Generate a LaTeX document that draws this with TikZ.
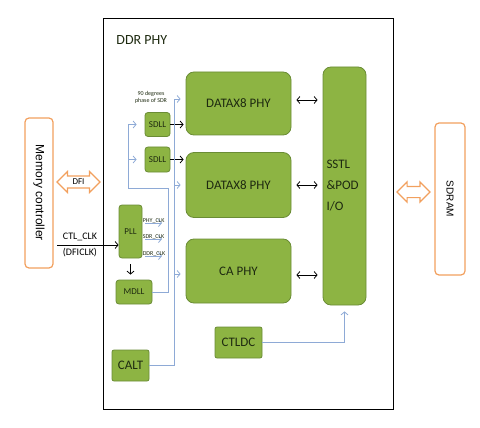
\documentclass[tikz,border=0pt]{standalone}
\usepackage{fontspec}
\setmainfont{Carlito}
\newfontfamily\arialfont{Liberation Sans}
\usepackage{tikz}
\usetikzlibrary{positioning,shapes.arrows,arrows.meta}
\definecolor{PhyGreen}{HTML}{8DB443}
\definecolor{PhyGreenDark}{HTML}{6A8C35}
\definecolor{PhyText}{HTML}{1E2A10}
\definecolor{PhyBlue}{HTML}{8EAAD6}
\definecolor{PhyOrange}{HTML}{F2A05E}

\begin{document}
\begin{tikzpicture}[x=1pt, y=-1pt, >={Straight Barb[length=3pt,width=7pt]}, line width=0.8pt,
  every node/.style={font=\fontsize{13}{15}\selectfont, align=center, inner sep=0pt},
  block/.style={draw=PhyGreenDark, fill=PhyGreen, rounded corners=8pt, text=PhyText},
  smallblock/.style={block, rounded corners=3pt, font=\fontsize{9}{10}\selectfont},
  ext/.style={draw=PhyOrange, fill=white, rounded corners=4pt, line width=1.2pt},
  fatarrow/.style={draw=PhyOrange, fill=white, line width=1.2pt, shape=double arrow, double arrow head extend=4.5pt},
  clk/.style={->, PhyBlue},
  tiny/.style={font=\fontsize{6}{7}\selectfont, text=PhyText}]
  \useasboundingbox (0,0) rectangle (480,428);

  % frame
  \node[draw=black, line width=1.4pt, minimum width=290pt, minimum height=391pt, anchor=north west] (phy) at (103,18) {};
  \node[anchor=west, font=\fontsize{14}{16}\selectfont, text=PhyText] (title) at (116,40) {DDR PHY};

  % big blocks
  \node[block, minimum width=105pt, minimum height=63pt] (dx1) at (238.5,103.5) {DATAX8 PHY};
  \node[block, minimum width=105pt, minimum height=65pt] (dx2) at (238.5,185) {DATAX8 PHY};
  \node[block, minimum width=105pt, minimum height=64pt] (ca) at (238.5,271) {CA PHY};
  \node[block, minimum width=43pt, minimum height=238pt, text width=36pt, align=left, font=\fontsize{13}{21}\selectfont] (sstl) at (344.5,186) {SSTL\\\&POD\\I/O};
  \node[block, rounded corners=2pt, minimum width=47pt, minimum height=31pt] (ctldc) at (238.5,342.5) {CTLDC};
  \node[block, rounded corners=2pt, minimum width=37pt, minimum height=31pt] (calt) at (130.5,365.5) {CALT};

  % small blocks
  \node[smallblock, minimum width=25pt, minimum height=24pt] (sdll1) at (157.5,124.5) {SDLL};
  \node[smallblock, minimum width=25pt, minimum height=25pt] (sdll2) at (157.5,159.5) {SDLL};
  \node[smallblock, minimum width=23pt, minimum height=53pt] (pll) at (130.5,231.5) {PLL};
  \node[smallblock, minimum width=36pt, minimum height=24pt] (mdll) at (134,292) {MDLL};
  \node[tiny] (phase) at (151,97.5) {90 degrees\\phase of SDR};

  % outside
  \node[ext, rotate=-90, minimum width=150pt, minimum height=28pt, font=\arialfont\fontsize{12}{14}\selectfont] (mc) at (39,193) {Memory controller};
  \node[ext, rotate=-90, minimum width=152pt, minimum height=30pt, font=\arialfont\fontsize{10}{12}\selectfont] (sdram) at (450,199) {SDRAM};
  \node[fatarrow, minimum height=43pt, minimum width=21pt, inner xsep=1pt, inner ysep=2.5pt, font=\fontsize{9}{10}\selectfont] (dfi) at (78.5,182) {DFI};
  \node[fatarrow, minimum height=33pt, minimum width=20pt, inner sep=5pt] (ram) at (413.5,192) {};

  % controller clock
  \coordinate (ctlclk) at (57,245);
  \draw[->] (ctlclk) -- (ctlclk -| pll.west);
  \node[font=\fontsize{10}{12}\selectfont] (ctllbl) at (80,237) {CTL\_CLK};
  \node[font=\fontsize{10}{12}\selectfont] (dficlk) at (80,253) {(DFICLK)};

  % pll outputs
  \foreach \lbl/\yy [count=\i] in {PHY\_CLK/223, SDR\_CLK/239, DDR\_CLK/256} {
    \coordinate (clkend\i) at (162,\yy);
    \draw[clk, shorten <=3pt] (pll.east |- clkend\i) -- (clkend\i);
    \node[tiny, anchor=south west] (clklbl\i) at ([yshift=-1pt]pll.east |- clkend\i) {\lbl};
  }
  \draw[->, shorten <=6pt, shorten >=5pt] (pll.south) -- (pll.south |- mdll.north);

  % mdll to sdll
  \coordinate (mj) at (168,188);
  \coordinate (sj) at (128,188);
  \draw[clk, shorten >=8pt] (mdll.east) -| (mj) -- (sj) |- (sdll1.west);
  \draw[clk, shorten >=8pt] (sj |- sdll2.west) -- (sdll2.west);
  \draw[->, shorten >=2pt] (sdll1.east) -- (sdll1.east -| dx1.west);
  \draw[->, shorten >=2pt] (sdll2.east) -- (sdll2.east -| dx2.west);

  % calt line
  \coordinate (cl) at (174,99);
  \draw[clk, shorten >=5pt] (calt.east) -| (cl) -- (cl -| dx1.west);
  \draw[clk, shorten >=5pt] (cl |- dx2.west) -- (dx2.west);
  \draw[clk, shorten >=5pt] (cl |- 0,274) -- (ca.west |- 0,274);

  % to io
  \draw[<->, shorten <=5pt, shorten >=5pt] (dx1.east |- 0,100) -- (sstl.west |- 0,100);
  \draw[<->, shorten <=5pt, shorten >=5pt] (dx2.east) -- (dx2.east -| sstl.west);
  \draw[<->, shorten <=5pt, shorten >=5pt] (ca.east |- 0,275) -- (sstl.west |- 0,275);
  \draw[clk, shorten >=6pt] (ctldc.east) -| (sstl.south);
\end{tikzpicture}
\end{document}
